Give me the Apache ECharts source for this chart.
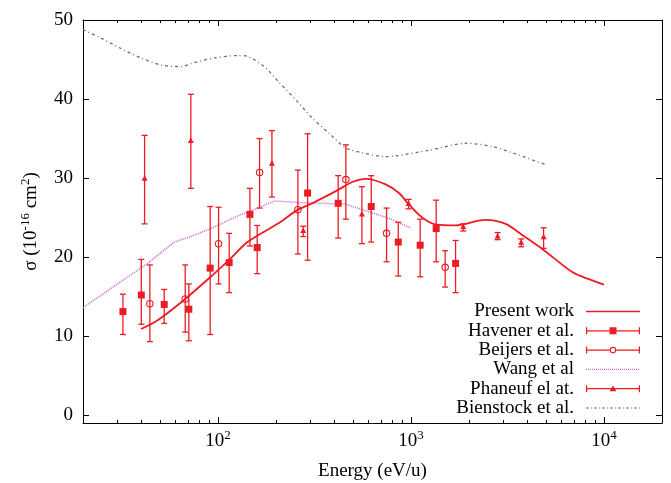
<!DOCTYPE html>
<html><head><meta charset="utf-8">
<script src="https://cdn.jsdelivr.net/npm/echarts@6/dist/echarts.min.js"></script>
<style>html,body{margin:0;padding:0;background:#fff}#c{width:671px;height:483px}</style>
</head><body><div id="c"></div>
<script>
// ---------------- data ----------------
const presentE = [40, 48.7, 67.7, 95.7, 115, 142.5, 207, 260, 308, 420, 497, 587, 740, 867, 973, 1144, 1352, 1704, 2245, 2438, 3095, 3770, 4871, 6855, 8370, 10000];
const presentS = [10.9, 12.0, 14.7, 17.9, 19.7, 21.9, 24.3, 26.0, 26.8, 28.5, 29.5, 29.9, 29.2, 28.1, 26.7, 25.0, 24.1, 24.0, 24.6, 24.7, 24.2, 22.8, 20.9, 18.1, 17.2, 16.5];

const havenerE  = [32.2, 40.1, 52.7, 70.7, 91.2, 114.4, 146.5, 159.8, 291.6, 420, 623, 860, 1117, 1352, 1704];
const havenerS  = [13.1, 15.2, 14.0, 13.4, 18.6, 19.3, 25.4, 21.2, 28.1, 26.8, 26.4, 21.9, 21.5, 23.6, 19.2];
const havenerLo = [10.2, 11.5, 11.6, 9.4, 10.2, 15.5, 21.4, 17.9, 19.6, 22.4, 21.9, 17.6, 17.5, 19.4, 15.5];
const havenerHi = [15.3, 19.7, 15.9, 16.6, 26.4, 23.0, 28.7, 24.0, 35.6, 30.3, 30.3, 24.4, 24.8, 27.2, 22.1];

const beijersE  = [44.4, 67.7, 100.8, 164.4, 259.7, 460.3, 748, 1505];
const beijersS  = [14.1, 14.7, 21.7, 30.7, 26.0, 29.8, 23.0, 18.7];
const beijersLo = [9.3, 10.5, 16.6, 26.2, 20.4, 24.8, 19.4, 16.2];
const beijersHi = [19.0, 19.0, 26.3, 35.0, 31.0, 34.2, 26.2, 20.8];

const wangE = [20, 29, 43.2, 59.4, 72.4, 95.7, 126.5, 154.2, 195.7, 263, 459, 560, 769, 996];
const wangS = [13.6, 16.3, 19.2, 21.9, 22.6, 23.8, 25.2, 26.0, 27.1, 26.9, 26.7, 26.0, 24.9, 23.7];

const phaneufE  = [41.7, 72.4, 190.5, 276.7, 557.3, 972.8, 1866, 2813, 3728, 4871];
const phaneufS  = [29.9, 34.7, 31.8, 23.3, 25.4, 26.7, 23.8, 22.6, 21.8, 22.5];
const phaneufLo = [24.2, 28.7, 27.6, 22.6, 21.7, 26.1, 23.3, 22.2, 21.3, 21.1];
const phaneufHi = [35.4, 40.6, 36.0, 23.9, 28.9, 27.3, 24.2, 23.1, 22.3, 23.7];

const bienE = [20, 24.8, 31.4, 39.9, 50.7, 64.3, 75.4, 95.7, 126.5, 142.5, 173.8, 207.8, 257.6, 308, 375.8, 458.8, 559.5, 739.6, 833, 1240, 1920, 2638, 3627, 4988];
const bienS = [48.8, 47.7, 46.4, 45.2, 44.3, 44.1, 44.6, 45.2, 45.5, 45.4, 44.1, 42.1, 39.7, 37.6, 35.7, 33.8, 33.2, 32.7, 32.8, 33.5, 34.4, 34.0, 32.9, 31.7];

const seriesNames = ['Present work', 'Havener et al.', 'Beijers et al.', 'Wang et al', 'Phaneuf el at.', 'Bienstock et al.'];

const xMajorTicks = [100, 1000, 10000];
const xMajorExp   = ['2', '3', '4'];
const xMinorTicks = [30, 40, 50, 60, 70, 80, 90, 200, 300, 400, 500, 600, 700, 800, 900, 2000, 3000, 4000, 5000, 6000, 7000, 8000, 9000];
const yTicks = [0, 10, 20, 30, 40, 50];

// ---------------- styling ----------------
const FONT = '"Liberation Serif", "Times New Roman", serif';
const RED = '#ec1c24';
const PINK = '#cc66cc';
const GRAY = '#6e6e6e';
const X_MIN = 20, X_MAX = 20000, Y_MIN = -1, Y_MAX = 50;

const rich = {
  b: {fontFamily: FONT, fontSize: 19, lineHeight: 24, color: '#000'},
  s: {fontFamily: FONT, fontSize: 13, lineHeight: 13, verticalAlign: 'top', color: '#000'}
};

function zip(...arrs) { return arrs[0].map((_, i) => arrs.map(a => a[i])); }

function errRender(marker) {
  return function (params, api) {
    const x = api.value(0), y = api.value(1), lo = api.value(2), hi = api.value(3);
    const c = api.coord([x, y]);
    const cl = api.coord([x, lo]);
    const ch = api.coord([x, hi]);
    const w = 3;
    const st = {stroke: RED, lineWidth: 1.3, fill: null};
    const children = [
      {type: 'line', shape: {x1: c[0], y1: cl[1], x2: c[0], y2: ch[1]}, style: st},
      {type: 'line', shape: {x1: c[0] - w, y1: cl[1], x2: c[0] + w, y2: cl[1]}, style: st},
      {type: 'line', shape: {x1: c[0] - w, y1: ch[1], x2: c[0] + w, y2: ch[1]}, style: st}
    ];
    if (marker === 'square') {
      children.push({type: 'rect', shape: {x: c[0] - 3.5, y: c[1] - 3.5, width: 7, height: 7}, style: {fill: RED}});
    } else if (marker === 'circle') {
      children.push({type: 'circle', shape: {cx: c[0], cy: c[1], r: 3.2}, style: {fill: null, stroke: RED, lineWidth: 1.1}});
    } else {
      children.push({type: 'polygon', shape: {points: [[c[0], c[1] - 3.5], [c[0] + 3, c[1] + 2], [c[0] - 3, c[1] + 2]]}, style: {fill: RED}});
    }
    return {type: 'group', children};
  };
}

// legend icons (54 x 8 box)
const ANCH = 'M0 0L0.001 0L0 0.001Z M54 8L53.999 8L54 7.999Z ';
const CAPS = 'M0 0.5H1.2V7.5H0Z M52.8 0.5H54V7.5H52.8Z ';
const iconPresent = ANCH + 'M0 3.2H54V4.8H0Z';
const iconHav = ANCH + CAPS + 'M0 3.4H54V4.6H0Z M23.5 0.5H30.5V7.5H23.5Z';
const iconBei = ANCH + CAPS + 'M0 3.4H23.7V4.6H0Z M30.3 3.4H54V4.6H30.3Z ' +
  'M30.3 4A3.3 3.3 0 1 1 23.7 4A3.3 3.3 0 1 1 30.3 4Z M29.2 4A2.2 2.2 0 1 0 24.8 4A2.2 2.2 0 1 0 29.2 4Z';
const iconPha = ANCH + CAPS + 'M0 3.4H54V4.6H0Z M27 0.8L30.4 6.5H23.6Z';
let iconWang = ANCH;
for (let x = 0; x < 54; x += 2) iconWang += 'M' + x + ' 3.4h1v1.2h-1Z ';
let iconBien = ANCH;
for (let x = 0; x < 54; x += 8) iconBien += 'M' + x + ' 3.5h3v1h-3Z M' + (x + 5) + ' 3.5h1v1h-1Z ';

function xAxisBase(pos, ticks, len, showLine, showLabel) {
  return {
    type: 'log', logBase: 10, min: X_MIN, max: X_MAX, position: pos,
    axisLine: {show: showLine, onZero: false, lineStyle: {color: '#000', width: 1}},
    axisTick: {show: true, inside: true, length: len, customValues: ticks, lineStyle: {color: '#000', width: 1}},
    axisLabel: showLabel ? {
      show: true, customValues: xMajorTicks, margin: 6,
      formatter: v => '{b|10}{s|' + xMajorExp[xMajorTicks.indexOf(v)] + '}', rich: rich
    } : {show: false},
    splitLine: {show: false}, minorTick: {show: false}
  };
}

function yAxisBase(pos, showLabel) {
  const ax = {
    type: 'value', min: Y_MIN, max: Y_MAX, position: pos,
    axisLine: {show: true, onZero: false, lineStyle: {color: '#000', width: 1}},
    axisTick: {show: true, inside: true, length: 6, customValues: yTicks, lineStyle: {color: '#000', width: 1}},
    axisLabel: showLabel ? {show: true, customValues: yTicks, margin: 10, fontFamily: FONT, fontSize: 19, color: '#000'} : {show: false},
    splitLine: {show: false}
  };
  return ax;
}

const option = {
  animation: false,
  backgroundColor: '#fff',
  grid: {left: 83, right: 9, top: 20, bottom: 60, containLabel: false, outerBoundsMode: 'none'},
  xAxis: [
    Object.assign(xAxisBase('bottom', xMajorTicks, 6, true, true), {
      name: 'Energy (eV/u)', nameLocation: 'middle', nameGap: 39,
      nameTextStyle: {fontFamily: FONT, fontSize: 19, color: '#000'}
    }),
    xAxisBase('bottom', xMinorTicks, 3, false, false),
    xAxisBase('top', xMajorTicks, 6, true, false),
    xAxisBase('top', xMinorTicks, 3, false, false)
  ],
  yAxis: [
    Object.assign(yAxisBase('left', true), {
      name: '{b|σ (10}{s|-16}{b| cm}{s|2}{b|)}', nameLocation: 'middle', nameGap: 40, nameRotate: 90,
      nameTextStyle: {rich: rich}
    }),
    yAxisBase('right', false)
  ],
  legend: {
    orient: 'vertical', align: 'right', right: 31, top: 302, padding: 0,
    itemWidth: 54, itemHeight: 8, itemGap: 0.3, selectedMode: false,
    textStyle: {fontFamily: FONT, fontSize: 19, lineHeight: 19, color: '#000', padding: [0, 7, 0, 0]},
    data: [
      {name: seriesNames[0], icon: 'path://' + iconPresent, itemStyle: {color: RED, borderWidth: 0}},
      {name: seriesNames[1], icon: 'path://' + iconHav, itemStyle: {color: RED, borderWidth: 0}},
      {name: seriesNames[2], icon: 'path://' + iconBei, itemStyle: {color: RED, borderWidth: 0}},
      {name: seriesNames[3], icon: 'path://' + iconWang, itemStyle: {color: PINK, borderWidth: 0}},
      {name: seriesNames[4], icon: 'path://' + iconPha, itemStyle: {color: RED, borderWidth: 0}},
      {name: seriesNames[5], icon: 'path://' + iconBien, itemStyle: {color: GRAY, borderWidth: 0}}
    ]
  },
  series: [
    {
      name: seriesNames[5], type: 'line', data: zip(bienE, bienS), symbol: 'none', smooth: 0.25,
      lineStyle: {color: GRAY, width: 1.3, type: [3, 3, 1, 3]}, itemStyle: {color: GRAY}, z: 2
    },
    {
      name: seriesNames[3], type: 'line', data: zip(wangE, wangS), symbol: 'none',
      lineStyle: {color: PINK, width: 1.5, type: [1, 1]}, itemStyle: {color: PINK}, z: 2
    },
    {
      name: seriesNames[0], type: 'line', data: zip(presentE, presentS), symbol: 'none', smooth: 0.3,
      lineStyle: {color: RED, width: 1.8}, itemStyle: {color: RED}, z: 3
    },
    {
      name: seriesNames[1], type: 'custom', renderItem: errRender('square'), clip: true,
      data: zip(havenerE, havenerS, havenerLo, havenerHi), encode: {x: 0, y: 1}, itemStyle: {color: RED}, z: 4
    },
    {
      name: seriesNames[2], type: 'custom', renderItem: errRender('circle'), clip: true,
      data: zip(beijersE, beijersS, beijersLo, beijersHi), encode: {x: 0, y: 1}, itemStyle: {color: RED}, z: 4
    },
    {
      name: seriesNames[4], type: 'custom', renderItem: errRender('triangle'), clip: true,
      data: zip(phaneufE, phaneufS, phaneufLo, phaneufHi), encode: {x: 0, y: 1}, itemStyle: {color: RED}, z: 4
    }
  ]
};

const chart = echarts.init(document.getElementById('c'), null, {renderer: 'canvas'});
chart.setOption(option);
</script></body></html>
